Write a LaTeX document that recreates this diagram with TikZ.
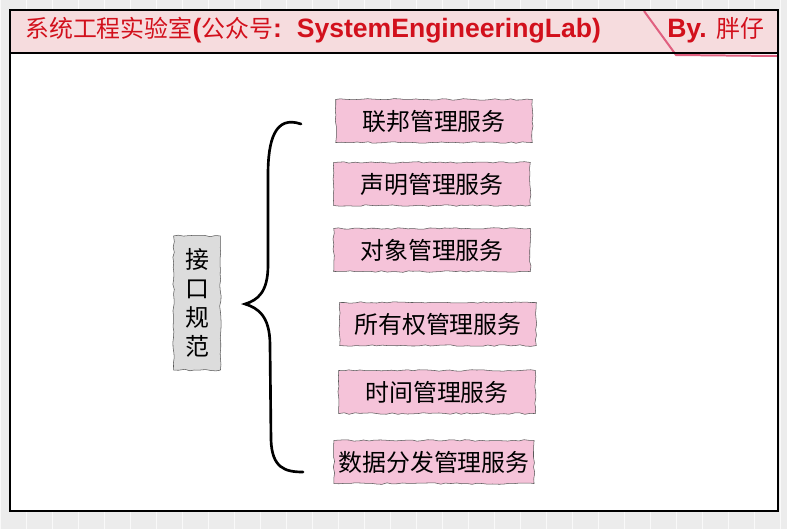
\documentclass[tikz,border=0pt]{standalone}
\usepackage{fontspec}
\setmainfont{Liberation Sans}
\newfontfamily\cjk{Noto Sans CJK SC}
\usetikzlibrary{positioning,decorations.pathmorphing}
\definecolor{tapepink}{HTML}{F5C3D9}
\definecolor{tapegray}{HTML}{DCDCDC}
\definecolor{headpink}{HTML}{F6DCDE}
\definecolor{titlered}{HTML}{D2101C}
\definecolor{linepink}{HTML}{E06080}
\tikzset{
    service/.style={draw=black!65,fill=tapepink,minimum width=5.2cm,minimum height=1.14cm,
        font=\cjk\fontsize{18}{22}\selectfont,
        decorate,decoration={random steps,segment length=4pt,amplitude=0.6pt}},
    topic/.style={draw=black!65,fill=tapegray,minimum width=1.24cm,minimum height=3.55cm,
        align=center,font=\cjk\fontsize{18}{22}\selectfont,
        decorate,decoration={random steps,segment length=4pt,amplitude=0.6pt}},
    title/.style={text=titlered,font=\fontsize{20}{22}\selectfont,inner sep=0pt},
    brace/.style={line width=2pt,line cap=round}
}
\begin{document}
\begin{tikzpicture}[x=0.02646cm,y=-0.02646cm]
    \useasboundingbox (0,0) rectangle (787,529);
    \fill[gray!15] (0,0) rectangle (787,529);
    \draw[white!70!gray!15,step=26] (0,0) grid (787,529);
    % frame and header
    \fill[white] (10,10) rectangle (778,511);
    \fill[headpink] (10,10) rectangle (778,53);
    \coordinate (slash top) at (644,11);
    \coordinate (slash foot) at (676,55);
    \coordinate (slash end) at (777,56);
    \draw[linepink,line width=1.5pt] (slash top) -- (slash foot) -- (slash end);
    \draw[line width=1pt] (10,53) -- (778,53);
    \draw[line width=1pt] (10,10) rectangle (778,511);

    \node[title,anchor=west] (title) at (25,30)
        {{\cjk\fontsize{18}{22}\selectfont 系统工程实验室}\textbf{(}{\cjk\fontsize{18}{22}\selectfont 公众号}\textbf{:\ \ SystemEngineeringLab)}};
    \node[title,anchor=west] (author) at (667,30) {\textbf{By.} {\cjk\fontsize{18}{22}\selectfont 胖仔}};

    % interface spec and its services
    \node[topic] (spec) at (197,303) {接\\口\\规\\范};

    \node[service] (federation) at (434,121) {联邦管理服务};
    \node[service] (declaration) at (432,184) {声明管理服务};
    \node[service] (object) at (432,250) {对象管理服务};
    \node[service] (ownership) at (438,324) {所有权管理服务};
    \node[service] (time) at (437,392) {时间管理服务};
    \node[service] (distribution) at (434,462) {数据分发管理服务};

    \coordinate (brace top) at (301,124);
    \coordinate (brace tip) at (245,304);
    \coordinate (brace bottom) at (303,472);
    \draw[brace] (brace top) .. controls (275,115) and (268,140) .. (268,175)
        -- (268,265) .. controls (268,292) and (258,300) .. (brace tip)
        .. controls (258,308) and (270,316) .. (270,345)
        -- (271,440) .. controls (272,468) and (285,472) .. (brace bottom);
\end{tikzpicture}
\end{document}
